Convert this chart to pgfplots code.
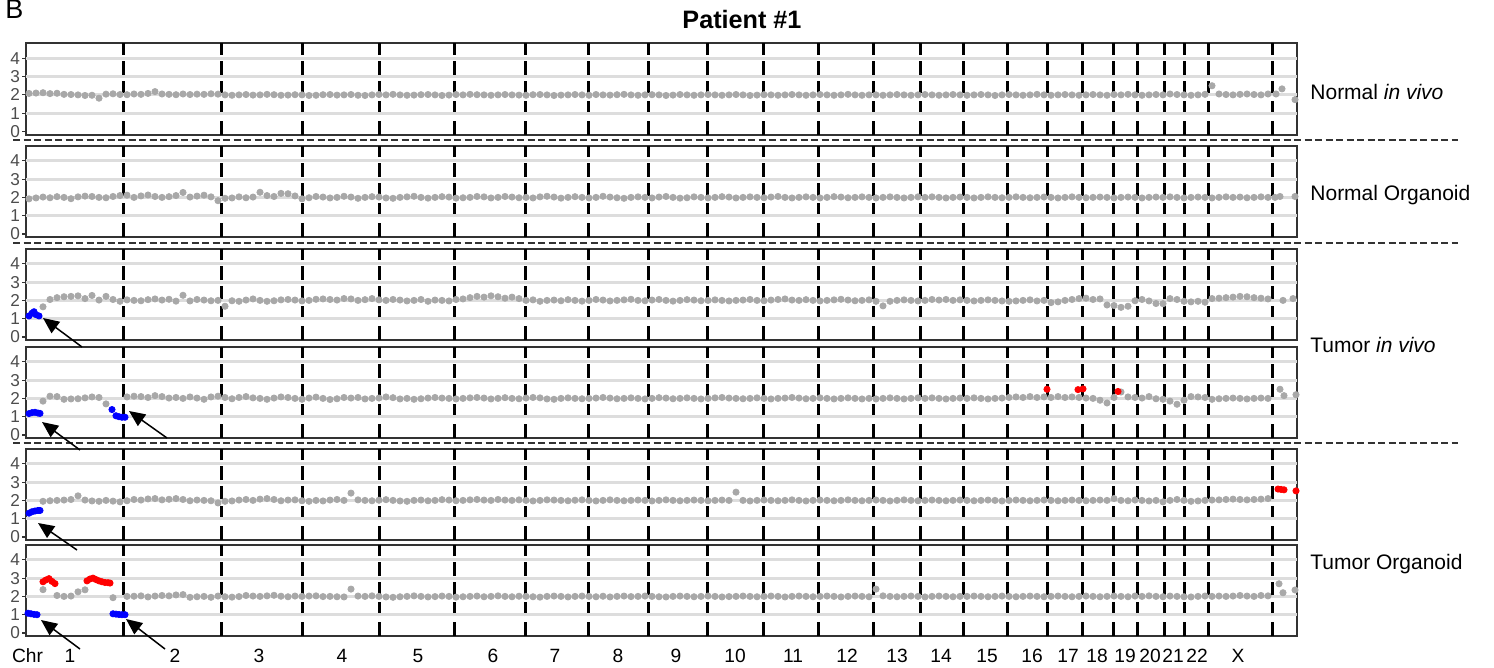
\documentclass[border=0pt]{standalone}
\usepackage{fontspec}
\setmainfont{Liberation Sans}
\usepackage{pgfplots}
\pgfplotsset{compat=1.18}
\usepackage{pgfplotstable}
\usetikzlibrary{arrows.meta}

\definecolor{dotgray}{RGB}{168,168,168}
\definecolor{gridgray}{RGB}{221,221,221}
\definecolor{framegray}{RGB}{51,51,51}
\definecolor{ticktext}{RGB}{77,77,77}
\definecolor{cnblue}{RGB}{0,0,255}
\definecolor{cnred}{RGB}{255,0,0}

% binned copy-number estimates, one column per sample track
\pgfplotstableread{
x a b c d e f
3 2.08 1.92 nan nan nan nan
10 2.10 1.97 nan nan nan nan
17 2.12 2.02 1.65 1.85 1.95 2.37
24 2.07 1.98 2.05 2.12 1.98 nan
31 2.09 2.04 2.15 2.10 2.00 2.05
38 2.03 2.00 2.20 1.95 2.02 2.00
45 2.02 1.93 2.22 1.97 2.05 2.02
52 2.00 2.03 2.25 1.98 2.25 2.25
59 1.97 2.07 2.10 2.03 2.02 2.36
66 1.98 2.05 2.27 2.08 1.97 nan
73 1.82 2.00 2.02 2.05 1.95 nan
80 2.04 1.98 2.22 1.70 2.00 nan
87 2.06 2.05 2.05 nan 1.96 1.93
94 2.02 2.10 1.95 nan 1.92 nan
101 2.01 2.12 2.03 2.08 1.98 2.00
108 2.05 2.00 2.00 2.12 2.05 2.01
115 2.03 2.08 1.98 2.10 2.02 2.03
122 2.08 2.13 2.04 2.05 2.08 1.97
129 2.18 2.05 2.08 2.15 2.10 2.02
136 2.05 2.00 2.02 2.10 2.03 2.05
143 2.03 2.04 2.06 2.02 2.06 2.03
150 2.01 2.10 1.96 2.05 2.10 2.08
157 2.05 2.27 2.28 2.00 2.05 2.10
164 2.02 2.02 1.97 2.08 1.98 1.95
171 2.04 2.07 2.05 2.02 2.02 1.98
178 2.03 2.12 2.02 1.95 2.00 2.00
185 2.06 2.03 1.98 2.08 1.98 1.95
192 2.04 1.82 2.00 2.12 1.86 2.02
199 2.00 1.95 1.68 2.05 1.95 1.98
206 1.98 1.97 1.98 1.98 1.97 1.96
213 2.00 2.03 1.95 2.05 2.02 1.99
220 2.02 1.98 2.02 2.10 2.05 2.05
227 1.99 2.02 2.08 2.03 2.00 2.02
234 2.00 2.28 2.00 2.00 2.07 2.00
241 2.03 2.10 1.95 1.95 2.10 2.03
248 2.01 2.05 1.98 2.02 2.05 2.06
255 1.98 2.22 2.03 2.08 1.98 2.01
262 1.99 2.20 2.05 2.05 2.02 1.98
269 2.01 2.08 2.02 2.00 2.03 2.02
276 2.00 1.92 1.97 1.95 1.98 2.00
283 1.97 1.98 2.00 2.02 1.95 2.02
290 1.98 2.05 2.06 2.07 2.00 2.03
297 2.01 2.02 2.08 2.00 1.97 1.99
304 2.02 1.97 2.05 1.94 2.02 2.00
311 1.99 2.00 2.02 1.98 2.05 1.98
318 2.00 2.06 2.10 2.05 2.00 1.97
325 2.02 2.02 2.08 2.02 2.40 2.40
332 1.98 1.95 2.00 2.05 2.03 2.02
339 1.97 2.00 2.04 1.97 2.00 2.00
346 2.00 2.04 2.10 2.00 1.98 2.03
353 2.02 2.02 2.03 2.02 2.01 2.00
360 2.00 1.97 2.00 2.08 2.04 1.97
367 2.03 1.95 2.05 2.04 2.00 1.95
374 2.00 2.00 2.02 1.97 1.97 1.98
381 1.98 2.03 1.97 2.00 1.95 2.00
388 1.99 2.06 2.00 1.95 2.00 2.03
395 2.01 2.00 2.05 1.98 2.02 2.00
402 2.02 1.96 1.95 2.02 1.98 1.97
409 2.00 2.00 2.02 2.05 2.00 1.99
416 1.97 2.04 2.00 2.02 2.04 2.02
423 1.99 2.02 1.97 2.00 2.02 2.00
430 2.02 1.96 2.05 1.97 1.98 1.96
437 2.00 1.98 2.08 2.00 2.00 1.98
444 2.03 2.00 2.15 2.03 2.03 2.00
451 2.01 2.05 2.22 2.05 2.05 2.02
458 2.00 2.03 2.18 2.02 2.02 1.98
465 1.98 1.97 2.25 1.97 2.00 2.00
472 2.00 2.00 2.20 2.00 2.05 2.03
479 2.02 2.05 2.12 2.04 2.02 2.00
486 2.00 2.02 2.18 2.00 2.00 1.98
493 1.99 1.98 2.10 1.98 2.03 2.01
500 1.98 2.00 2.00 2.02 2.00 2.00
507 2.01 1.97 2.03 2.05 1.97 1.98
514 2.02 2.03 1.95 2.03 2.00 1.96
521 2.00 2.06 2.00 1.97 2.03 2.00
528 1.97 2.02 2.02 1.95 2.02 2.02
535 1.99 1.96 1.98 2.00 2.00 2.00
542 2.00 2.00 2.04 2.03 1.98 1.97
549 2.02 2.04 2.00 2.00 2.01 2.00
556 2.00 2.00 1.96 1.98 2.03 2.02
563 1.98 1.97 2.00 2.00 2.00 2.00
570 2.02 2.00 2.05 2.02 1.97 1.98
577 2.00 2.06 2.02 2.05 2.00 2.01
584 1.99 2.02 1.97 2.02 2.03 1.97
591 2.01 1.98 2.00 1.98 2.00 2.00
598 2.03 1.95 2.03 2.00 1.98 2.02
605 2.00 2.00 2.06 2.03 2.00 1.99
612 1.98 2.03 2.00 2.00 2.02 2.00
619 2.00 2.00 1.98 1.97 2.00 2.02
626 2.01 1.97 2.02 2.00 1.97 2.00
633 2.00 2.02 2.05 2.04 2.00 1.98
640 1.97 2.05 2.00 2.02 2.03 1.97
647 1.99 2.00 1.96 1.98 2.00 2.00
654 2.02 1.96 2.00 2.00 1.98 2.02
661 2.00 1.98 2.04 2.03 2.00 2.00
668 1.98 2.03 2.02 2.00 2.02 1.98
675 2.00 2.00 1.98 1.97 2.00 2.00
682 2.02 1.97 2.00 2.00 1.98 2.02
689 2.00 2.00 2.03 2.03 2.00 2.00
696 1.98 2.04 2.00 2.05 2.02 1.97
703 2.00 2.02 1.97 2.02 2.00 1.99
710 2.02 1.97 2.00 2.00 2.45 2.00
717 2.00 2.00 2.02 1.98 2.00 2.02
724 1.97 2.03 2.05 2.00 1.97 2.00
731 1.99 2.00 2.00 2.03 2.00 1.98
738 2.01 1.98 1.98 2.00 2.02 2.00
745 2.00 2.02 2.02 1.97 2.00 2.02
752 1.98 2.05 2.05 2.00 1.98 2.00
759 2.00 2.00 2.08 2.02 2.00 1.97
766 2.02 1.97 2.02 2.05 2.03 2.00
773 2.00 2.00 2.00 2.02 2.00 2.02
780 1.98 2.03 2.04 1.98 1.97 2.00
787 2.00 2.00 2.00 2.00 2.00 1.98
794 2.02 1.97 1.97 2.03 2.02 2.00
801 2.00 2.00 2.00 2.00 2.00 2.02
808 1.98 2.04 2.03 1.97 1.98 2.00
815 2.00 2.02 2.06 2.00 2.00 1.97
822 2.03 1.98 2.02 2.03 2.03 2.00
829 2.00 2.00 1.98 2.00 2.00 2.02
836 1.98 2.03 2.00 1.97 1.98 2.00
843 2.00 2.00 2.03 2.00 2.00 1.98
850 2.00 1.97 1.95 1.97 2.02 2.40
857 1.98 2.00 1.70 2.00 2.00 2.03
864 2.00 2.03 1.95 2.03 1.97 2.00
871 2.02 2.00 2.00 2.00 2.00 1.98
878 2.00 1.97 2.03 1.97 2.03 2.00
885 1.98 2.00 2.00 2.00 2.00 2.02
892 2.00 2.03 1.97 2.03 1.98 2.00
899 2.02 2.00 2.00 2.00 2.00 1.97
906 2.00 2.03 2.05 2.03 2.02 2.00
913 1.98 2.00 2.02 2.00 2.00 2.02
920 2.00 1.97 2.05 1.97 1.98 2.00
927 2.02 2.00 2.00 2.00 2.00 1.98
934 2.00 2.02 2.03 2.02 2.02 2.00
941 1.98 2.00 2.00 2.00 2.00 2.00
948 2.00 1.97 1.97 2.03 1.98 2.02
955 2.02 2.00 2.00 2.00 2.00 2.00
962 2.00 2.03 2.03 1.97 2.02 1.98
969 1.97 2.00 2.00 2.00 2.00 2.00
976 2.00 1.98 1.97 2.02 1.97 2.02
983 2.02 2.00 1.95 2.05 2.00 2.00
990 2.00 2.03 1.97 2.08 2.02 1.98
997 1.98 2.00 2.00 2.05 2.00 2.00
1004 2.00 1.98 2.03 2.10 1.98 2.02
1011 2.03 2.00 1.97 2.05 2.00 2.00
1018 2.00 2.02 2.00 2.08 2.02 1.98
1025 1.98 2.00 1.88 2.05 2.00 2.00
1032 2.00 1.97 1.92 2.10 1.98 2.02
1039 2.02 2.00 2.00 2.05 2.00 2.00
1046 2.00 2.03 2.05 2.08 2.02 1.98
1053 1.98 2.00 2.10 2.05 2.00 2.00
1060 2.00 1.98 2.12 2.02 1.98 2.02
1067 2.02 2.00 2.05 2.00 2.00 2.00
1074 2.00 2.02 2.08 1.90 2.02 1.98
1081 1.98 2.00 1.75 1.75 2.00 2.00
1088 2.02 1.97 1.72 2.05 2.10 2.02
1095 2.00 2.00 1.62 2.35 2.00 2.00
1102 2.03 2.02 1.68 2.08 1.98 1.98
1109 2.00 2.00 1.98 2.05 2.02 2.02
1116 1.98 1.97 2.05 2.02 2.00 2.00
1123 2.00 2.00 1.97 2.10 1.97 2.03
1130 2.02 2.02 1.83 1.98 2.00 2.00
1137 2.00 2.00 1.82 1.95 1.92 1.98
1144 2.05 2.03 2.10 1.85 2.00 2.02
1151 2.02 2.00 2.05 1.68 2.05 2.00
1158 2.00 1.97 1.95 1.90 2.00 1.98
1165 1.98 2.00 1.92 2.10 1.95 1.97
1172 2.00 2.02 1.95 2.08 1.97 2.00
1179 2.03 2.00 1.90 2.05 2.00 2.02
1186 2.50 1.97 2.10 1.95 2.02 2.00
1193 2.05 2.00 2.12 1.98 2.03 2.02
1200 2.02 2.03 2.15 2.00 2.05 2.00
1207 2.00 2.00 2.18 2.02 2.07 2.02
1214 2.03 2.02 2.22 2.00 2.05 2.05
1221 2.05 1.98 2.20 1.97 2.03 2.02
1228 2.02 2.00 2.15 2.00 2.05 2.00
1235 2.00 2.03 2.12 2.02 2.07 2.05
1242 2.05 2.00 2.08 2.00 2.10 2.03
}\cnbins

\pgfplotsset{
  cnpanel/.style={
    scale only axis, width=635.5pt, height=45.5pt,
    anchor=north west,
    xmin=0, xmax=1271, ymin=-0.165, ymax=4.81,
    axis line style={framegray, line width=1pt},
    xtick=\empty,
    ytick={0,1,2,3,4}, ytick pos=left,
    yticklabel style={font=\fontsize{8.6}{9}\selectfont, text=ticktext, inner sep=0.8pt},
    /pgf/number format/assume math mode=true,
    y tick style={framegray, line width=0.6pt},
    major tick length=2pt, tick align=outside,
    extra y ticks={1,2,3,4}, extra y tick labels={},
    extra y tick style={grid=major, major grid style={gridgray, line width=1.5pt}, major tick length=0pt},
    extra x ticks={97,195,276,353,428,499,562,622,681,737,792,847,894,937,981,1021,1056,1087,1111,1138,1158,1182,1246},
    extra x tick labels={},
    extra x tick style={grid=major, major grid style={black, line width=1.5pt, dash pattern=on 7pt off 3pt}, major tick length=0pt},
  },
  graydots/.style={only marks, mark=*, mark size=1.55pt, color=dotgray},
  bluedots/.style={only marks, mark=*, mark size=1.55pt, color=cnblue},
  reddots/.style={only marks, mark=*, mark size=1.55pt, color=cnred},
}

\begin{document}
\begin{tikzpicture}
\path[use as bounding box] (0,0) rectangle (747pt,-334pt);

% Normal in vivo
\begin{axis}[cnpanel, at={(13pt,-21.75pt)}]
\addplot[graydots] table[x=x,y=a]{\cnbins};
\addplot[graydots] coordinates {(1250,2.05)(1256,2.33)(1269,1.74)};
\end{axis}

% Normal organoid
\begin{axis}[cnpanel, at={(13pt,-73pt)}]
\addplot[graydots] table[x=x,y=b]{\cnbins};
\addplot[graydots] coordinates {(1249,2.00)(1254,2.05)(1269,2.05)};
\end{axis}

% Tumor in vivo, track 1
\begin{axis}[cnpanel, at={(13pt,-124.5pt)}]
\addplot[graydots] table[x=x,y=c]{\cnbins};
\addplot[graydots] coordinates {(1257,2.00)(1267,2.10)};
\addplot[bluedots] coordinates {(3,1.15)(6,1.30)(8,1.38)(10,1.22)(13,1.15)};
\end{axis}

% Tumor in vivo, track 2
\begin{axis}[cnpanel, at={(13pt,-173.5pt)}]
\addplot[graydots] table[x=x,y=d]{\cnbins};
\addplot[graydots] coordinates {(1254,2.50)(1258,2.15)(1270,2.20)};
\addplot[bluedots] coordinates {(3,1.17)(6,1.22)(9,1.24)(12,1.20)(14,1.18)
  (86,1.39)(90,1.05)(93,1.00)(96,0.97)(99,0.97)};
\addplot[reddots] coordinates {(1021,2.50)(1052,2.48)(1057,2.52)(1092,2.38)};
\end{axis}

% Tumor organoid, track 1
\begin{axis}[cnpanel, at={(13pt,-224.5pt)}]
\addplot[graydots] table[x=x,y=e]{\cnbins};
\addplot[bluedots] coordinates {(3,1.30)(6,1.38)(9,1.42)(12,1.45)(14,1.45)};
\addplot[reddots] coordinates {(1252,2.62)(1255,2.60)(1258,2.58)(1270,2.52)};
\end{axis}

% Tumor organoid, track 2 (carries the chromosome axis)
\begin{axis}[cnpanel, at={(13pt,-272.5pt)},
  xtick={1.5,44,149,233,316,392,467,529,592,650,709,767,821,871,915,961,1006,1042,1071,1099,1124,1147,1171,1212},
  xticklabels={Chr,1,2,3,4,5,6,7,8,9,10,11,12,13,14,15,16,17,18,19,20,21,22,X},
  xtick pos=bottom, x tick style={draw=none},
  xticklabel style={font=\fontsize{9.6}{11}\selectfont, text=black, anchor=north, inner sep=0pt, text height=6.9pt, text depth=0pt, yshift=-4.2pt},
]
\addplot[graydots] table[x=x,y=f]{\cnbins};
\addplot[graydots] coordinates {(1253,2.69)(1257,2.20)(1269,2.35)};
\addplot[bluedots] coordinates {(2,1.08)(5,1.05)(8,1.02)(11,1.00)(87,1.05)(90,1.03)(93,1.01)(96,1.00)(99,1.00)};
\addplot[reddots] coordinates {(17,2.80)(20,2.90)(23,2.97)(26,2.82)(29,2.70)
  (61,2.85)(64,2.95)(67,3.00)(70,2.92)(73,2.85)(76,2.80)(79,2.76)(82,2.75)(84,2.73)};
\end{axis}

% group separators
\foreach \yy in {-70pt,-121.5pt,-221.5pt}
  \draw[framegray, line width=1.4pt, dash pattern=on 3.5pt off 1.75pt] (6.5pt,\yy) -- (729pt,\yy);

% arrows to the losses
\begin{scope}[line width=0.75pt, -{Triangle[length=8pt,width=7pt]}]
\draw (41pt,-173.5pt) -- (21.5pt,-159pt);
\draw (40pt,-225pt) -- (21pt,-211pt);
\draw (83.5pt,-219pt) -- (64.5pt,-205.5pt);
\draw (38.5pt,-275pt) -- (19pt,-261.5pt);
\draw (40pt,-324.5pt) -- (20.5pt,-310pt);
\draw (82.5pt,-324.5pt) -- (63pt,-309.5pt);
\end{scope}

% titles and track names
\node[anchor=base west, inner sep=0pt, font=\fontsize{13.5}{15}\selectfont] at (2.5pt,-9.5pt) {B};
\node[anchor=base, inner sep=0pt, font=\fontsize{12.6}{14}\selectfont\bfseries] at (371pt,-14.5pt) {Patient \#1};
\begin{scope}[every node/.style={anchor=base west, inner sep=0pt, font=\fontsize{10.5}{12}\selectfont}]
\node at (655pt,-50pt) {Normal \textit{in vivo}};
\node at (655pt,-100.5pt) {Normal Organoid};
\node at (655pt,-176pt) {Tumor \textit{in vivo}};
\node at (655pt,-284.5pt) {Tumor Organoid};
\end{scope}
\end{tikzpicture}
\end{document}
